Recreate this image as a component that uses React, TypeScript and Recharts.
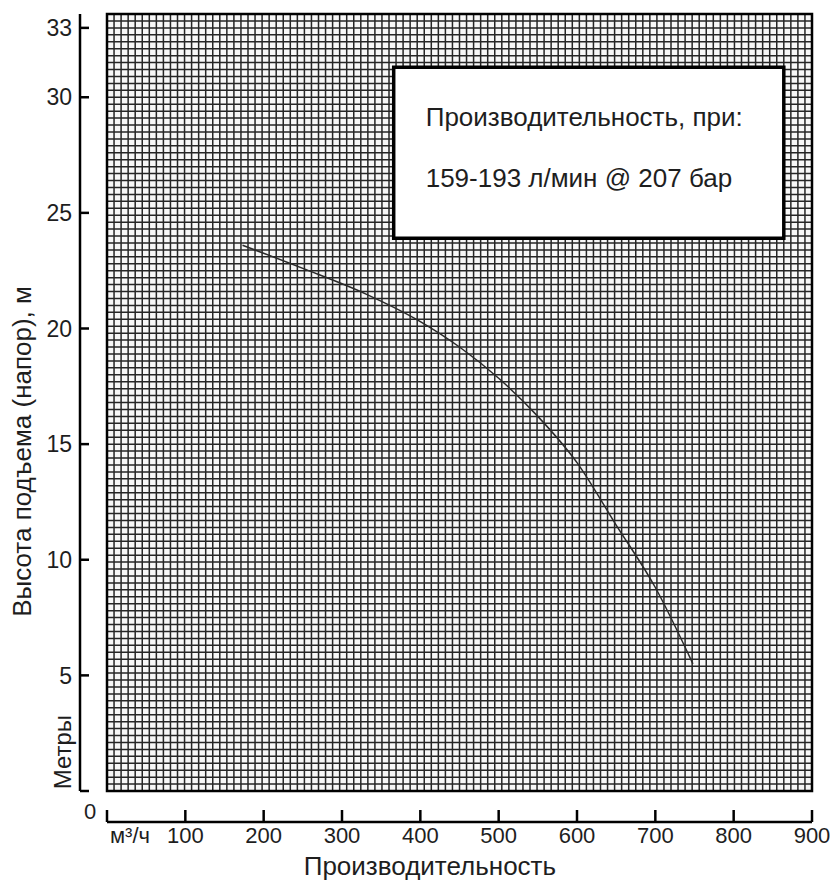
import {
  CartesianGrid,
  Label,
  Line,
  LineChart,
  ReferenceArea,
  XAxis,
  YAxis,
} from "recharts";

// расход, м³/ч и напор, м
const flow = [173, 250, 330, 400, 450, 500, 550, 600, 650, 700, 748];
const head = [23.6, 22.6, 21.5, 20.3, 19.2, 17.85, 16.2, 14.2, 11.5, 8.8, 5.5];

const xTicks = [0, 100, 200, 300, 400, 500, 600, 700, 800, 900];
const yTicks = [0, 5, 10, 15, 20, 25, 30, 33];
const noteLines = ["Производительность, при:", "159-193 л/мин @ 207 бар"];

const X_MAX = 900;
const Y_MAX = 33.6;

const data = flow.map((q, i) => ({ q, h: head[i] }));

// миллиметровка
const gridX = Array.from({ length: 101 }, (_, i) => i * 9);
const gridY = Array.from({ length: 113 }, (_, i) => +(i * 0.3).toFixed(1));

const FONT = "'Liberation Sans', Arial, sans-serif";
const INK = "#1e1e1e";

const applyScale = (scale: any, v: number) =>
  typeof scale === "function" ? scale(v) : scale.map(v);

function XTick(props: any) {
  const { x, y, payload } = props;
  if (payload.value === 0) {
    return (
      <g fontFamily={FONT} fontSize={22} fill={INK}>
        <text x={x - 17} y={y - 16} textAnchor="middle" dy="0.355em" fill={INK}>
          0
        </text>
        <text x={x + 23} y={y} textAnchor="middle" dy="0.71em" fill={INK}>
          м³/ч
        </text>
      </g>
    );
  }
  return (
    <text x={x} y={y} textAnchor="middle" dy="0.71em" fontFamily={FONT} fontSize={22} fill={INK}>
      {payload.value}
    </text>
  );
}

function YTick(props: any) {
  const { x, y, payload } = props;
  if (payload.value === 0) return <g />;
  return (
    <text x={x} y={y} textAnchor="end" dy="0.355em" fontFamily={FONT} fontSize={23} fill={INK}>
      {payload.value}
    </text>
  );
}

function NoteBox(props: any) {
  const vb = props.viewBox;
  return (
    <g fontFamily={FONT} fontSize={26} fill={INK}>
      {noteLines.map((t, i) => (
        <text key={t} x={vb.x + 32} y={vb.y + 50 + i * 61} dy="0.355em" fill={INK}>
          {t}
        </text>
      ))}
    </g>
  );
}

function XTitle(props: any) {
  const vb = props.viewBox;
  return (
    <text
      x={vb.x + vb.width * 0.458}
      y={vb.y + 53}
      textAnchor="middle"
      fontFamily={FONT}
      fontSize={26}
      fill={INK}
    >
      Производительность
    </text>
  );
}

function YTitle(props: any) {
  const vb = props.viewBox;
  const cx = vb.x + 22;
  const cy = vb.y + vb.height * 0.563;
  const mx = vb.x + 62;
  const my = vb.y + vb.height * 0.95;
  return (
    <g fontFamily={FONT} fill={INK}>
      <text
        x={cx}
        y={cy}
        textAnchor="middle"
        dy="0.355em"
        fontSize={26}
        transform={`rotate(-90 ${cx} ${cy})`}
        fill={INK}
      >
        Высота подъема (напор), м
      </text>
      <text
        x={mx}
        y={my}
        textAnchor="middle"
        dy="0.355em"
        fontSize={24}
        transform={`rotate(-90 ${mx} ${my})`}
        fill={INK}
      >
        Метры
      </text>
    </g>
  );
}

export default function App() {
  return (
    <div style={{ position: "absolute", left: 0, top: 0, width: 833, height: 884, background: "#fff" }}>
      <LineChart
        width={833}
        height={884}
        data={data}
        margin={{ top: 14, right: 21, bottom: 22, left: 0 }}
      >
        <CartesianGrid
          stroke="#262626"
          strokeWidth={1.5}
          fill="#f7f7f7"
          horizontalValues={gridY}
          verticalValues={gridX}
          horizontalCoordinatesGenerator={({ yAxis, offset }: any) =>
            yAxis && yAxis.scale
              ? gridY.map((v) => applyScale(yAxis.scale, v))
              : gridY.map((v) => offset.top + offset.height * (1 - v / Y_MAX))
          }
          verticalCoordinatesGenerator={({ xAxis, offset }: any) =>
            xAxis && xAxis.scale
              ? gridX.map((v) => applyScale(xAxis.scale, v))
              : gridX.map((v) => offset.left + (offset.width * v) / X_MAX)
          }
        />
        {/* пустые оси — отступ между сеткой и шкалами */}
        <XAxis
          xAxisId={0}
          type="number"
          dataKey="q"
          domain={[0, X_MAX]}
          ticks={gridX}
          interval={0}
          height={31}
          axisLine={false}
          tickLine={false}
          tick={false}
        />
        <YAxis
          yAxisId={0}
          type="number"
          dataKey="h"
          domain={[0, Y_MAX]}
          ticks={gridY}
          interval={0}
          width={27}
          axisLine={false}
          tickLine={false}
          tick={false}
        />
        <XAxis
          xAxisId={1}
          type="number"
          dataKey="q"
          domain={[0, X_MAX]}
          ticks={xTicks}
          interval={0}
          height={40}
          axisLine={{ stroke: "#000", strokeWidth: 2.5 }}
          tickLine={{ stroke: "#000", strokeWidth: 2.5 }}
          tickSize={-12}
          tickMargin={17}
          tick={<XTick />}
        >
          <Label content={<XTitle />} />
        </XAxis>
        <YAxis
          yAxisId={1}
          type="number"
          dataKey="h"
          domain={[0, Y_MAX]}
          ticks={yTicks}
          interval={0}
          width={80}
          axisLine={{ stroke: "#000", strokeWidth: 2.5 }}
          tickLine={{ stroke: "#000", strokeWidth: 2.5 }}
          tickSize={-9}
          tickMargin={17}
          tick={<YTick />}
        >
          <Label content={<YTitle />} />
        </YAxis>
        <ReferenceArea
          x1={0}
          x2={X_MAX}
          y1={0}
          y2={Y_MAX}
          fill="none"
          stroke="#000"
          strokeWidth={2.5}
          ifOverflow="visible"
        />
        <ReferenceArea
          x1={366}
          x2={864}
          y1={23.9}
          y2={31.3}
          fill="#fff"
          fillOpacity={1}
          stroke="#000"
          strokeWidth={3.5}
          label={<NoteBox />}
        />
        <Line
          type="monotone"
          dataKey="h"
          stroke="#2a2a2a"
          strokeWidth={1.5}
          dot={false}
          isAnimationActive={false}
        />
      </LineChart>
    </div>
  );
}
